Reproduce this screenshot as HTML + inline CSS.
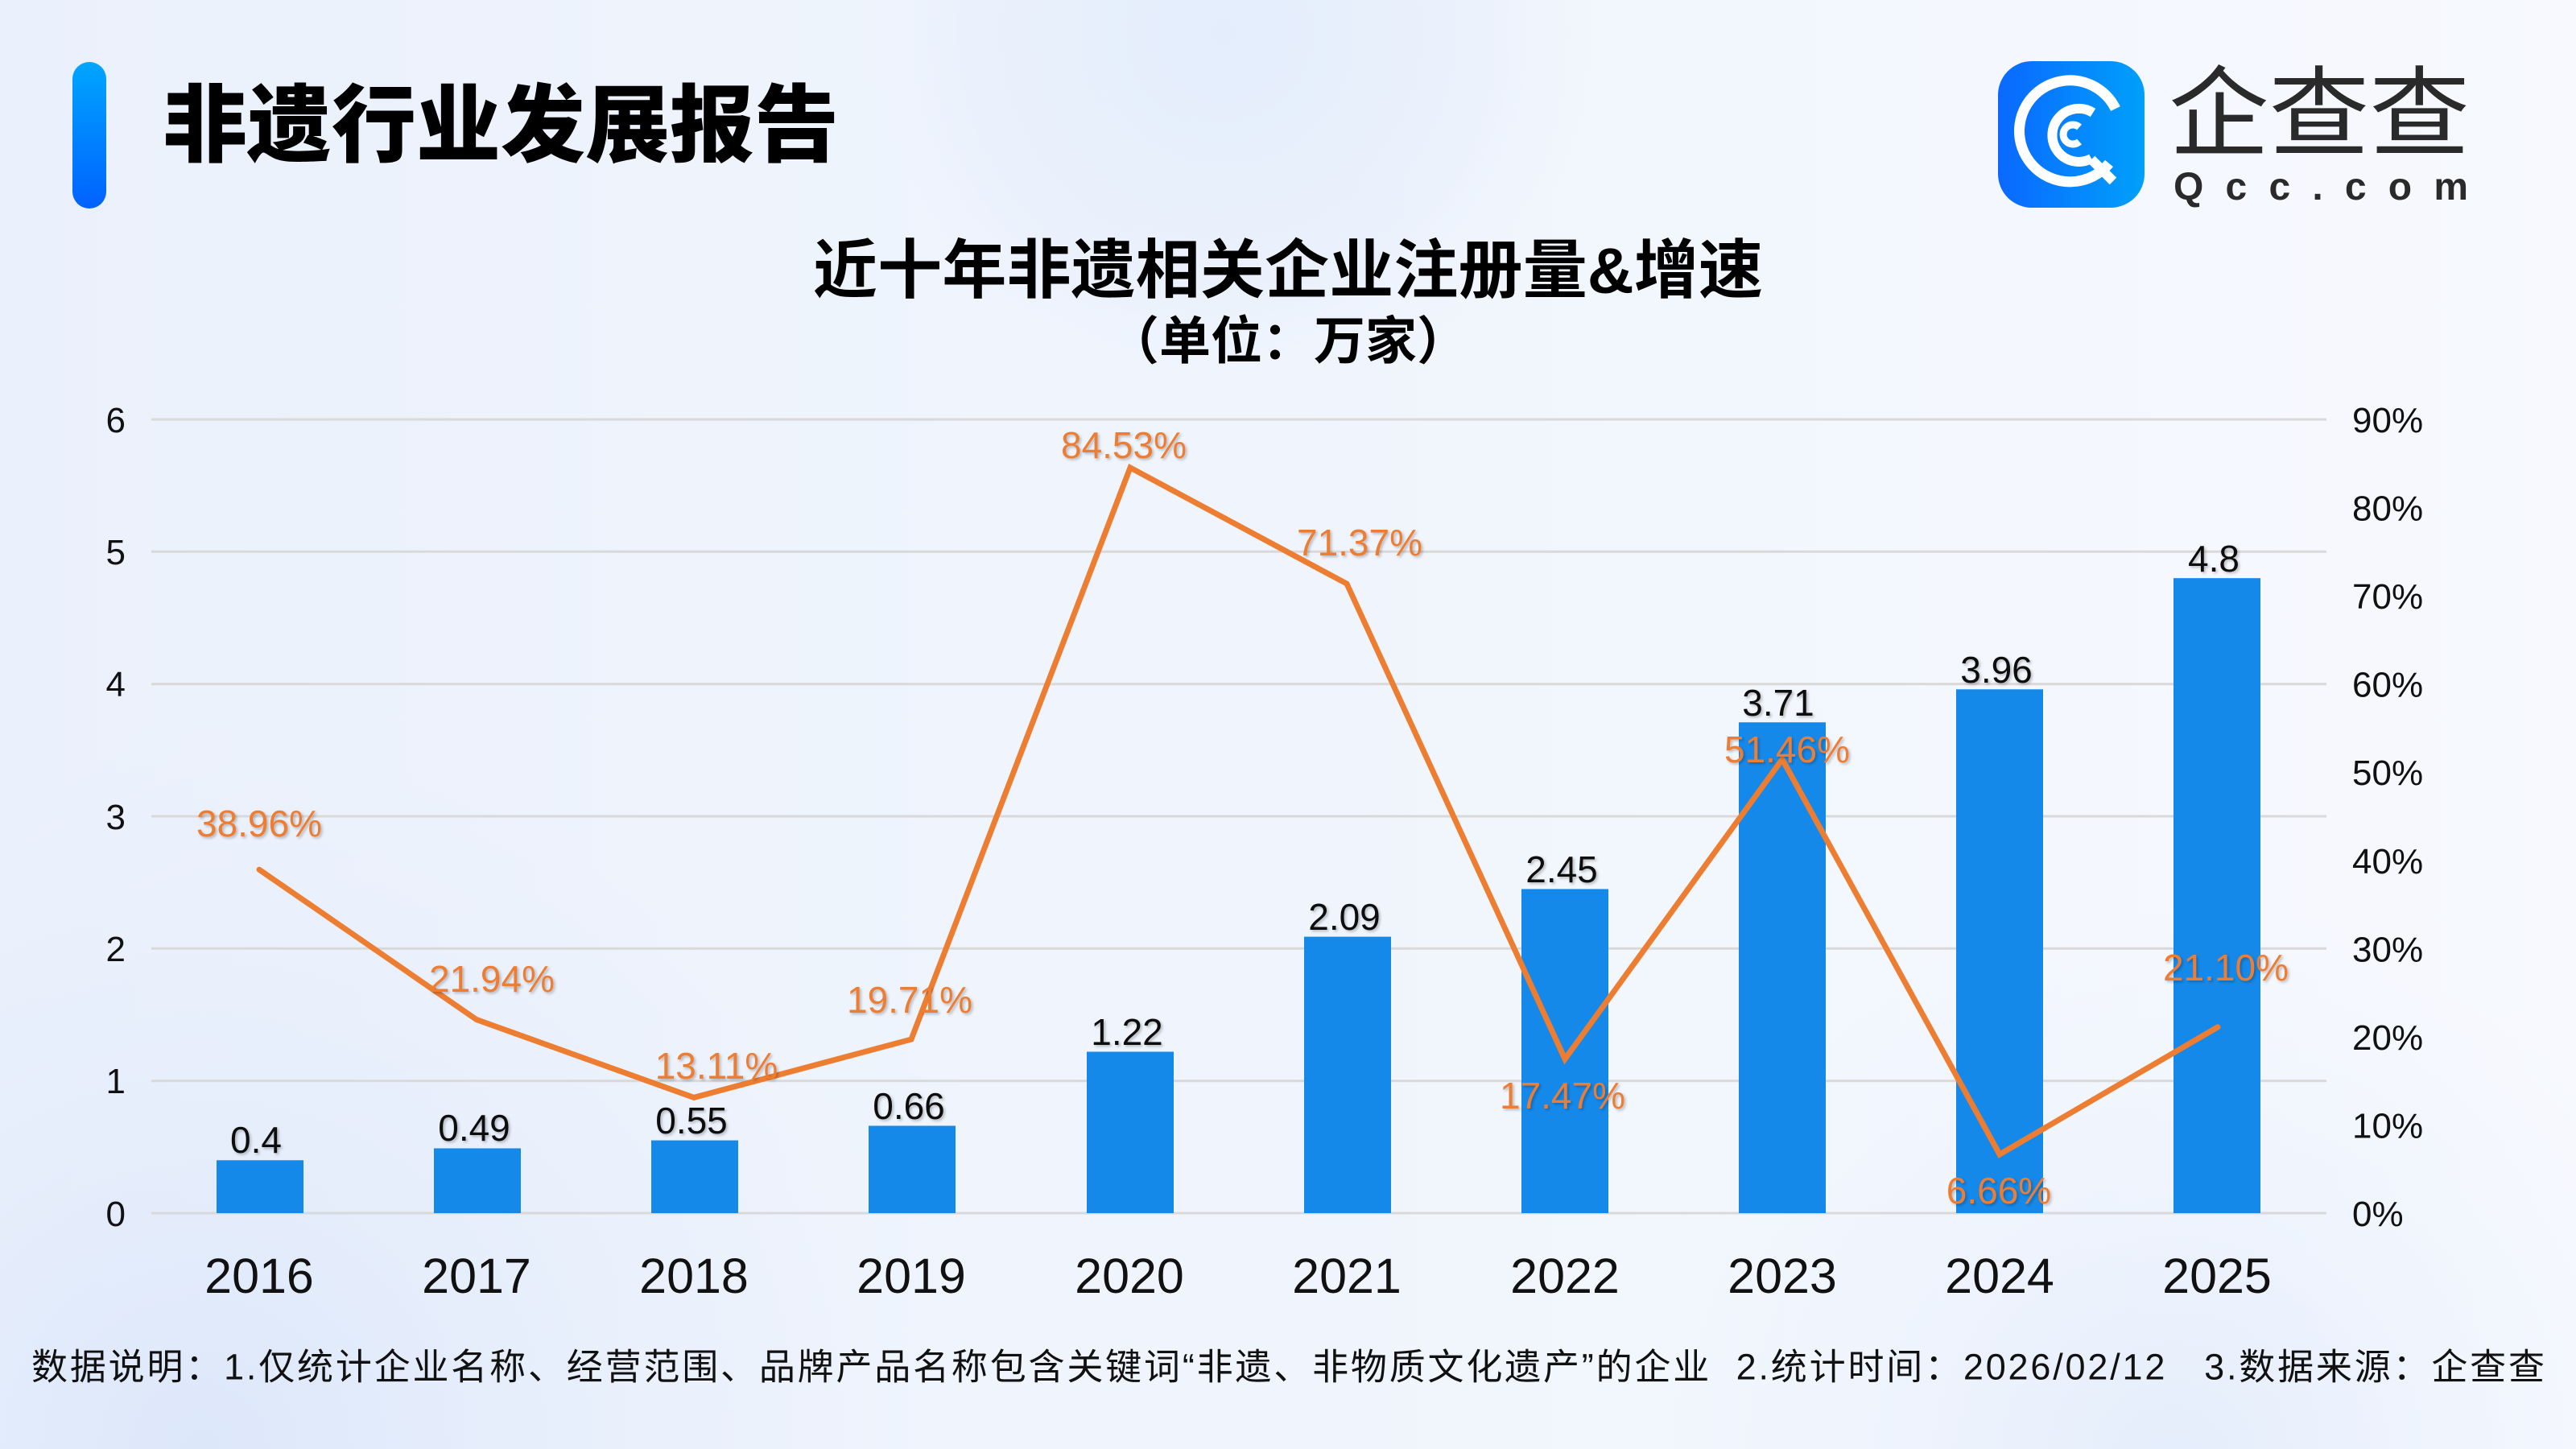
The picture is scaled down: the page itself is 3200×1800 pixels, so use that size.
<!DOCTYPE html>
<html>
<head>
<meta charset="utf-8">
<style>
  html,body{margin:0;padding:0;}
  body{width:3200px;height:1800px;overflow:hidden;}
  svg{display:block;}
  .cjk{font-family:"Liberation Sans","Noto Sans CJK SC",sans-serif;}
  .num{font-family:"Liberation Sans","Noto Sans CJK SC",sans-serif;}
</style>
</head>
<body>
<svg width="3200" height="1800" viewBox="0 0 3200 1800" xmlns="http://www.w3.org/2000/svg">
  <defs>
    <linearGradient id="bgL" x1="0" y1="0" x2="1" y2="0">
      <stop offset="0" stop-color="#EBF1FC"/>
      <stop offset="0.5" stop-color="#F0F5FD"/>
      <stop offset="1" stop-color="#F7F9FE"/>
    </linearGradient>
    <radialGradient id="blobTop" cx="1520" cy="40" r="460" gradientUnits="userSpaceOnUse">
      <stop offset="0" stop-color="#E3EDFC" stop-opacity="1"/>
      <stop offset="0.7" stop-color="#E7EFFC" stop-opacity="0.6"/>
      <stop offset="1" stop-color="#EEF3FD" stop-opacity="0"/>
    </radialGradient>
    <radialGradient id="blobBL" cx="250" cy="1800" r="900" gradientUnits="userSpaceOnUse">
      <stop offset="0" stop-color="#DCE7FA" stop-opacity="1"/>
      <stop offset="1" stop-color="#E8EFFC" stop-opacity="0"/>
    </radialGradient>
    <radialGradient id="blobBR" cx="2700" cy="1820" r="700" gradientUnits="userSpaceOnUse">
      <stop offset="0" stop-color="#E4EDFC" stop-opacity="1"/>
      <stop offset="1" stop-color="#EEF3FD" stop-opacity="0"/>
    </radialGradient>
    <linearGradient id="barTitle" x1="0" y1="0" x2="0" y2="1">
      <stop offset="0" stop-color="#00A6FF"/>
      <stop offset="1" stop-color="#0062FF"/>
    </linearGradient>
    <linearGradient id="iconG" x1="0" y1="0" x2="1" y2="0">
      <stop offset="0" stop-color="#0A68FF"/>
      <stop offset="1" stop-color="#00A0FB"/>
    </linearGradient>
    <filter id="sh" x="-10%" y="-30%" width="120%" height="160%">
      <feDropShadow dx="2" dy="2" stdDeviation="1.5" flood-color="#000" flood-opacity="0.25"/>
    </filter>
  </defs>

  <!-- background -->
  <rect x="0" y="0" width="3200" height="1800" fill="url(#bgL)"/>
  <rect x="0" y="0" width="3200" height="1800" fill="url(#blobTop)"/>
  <rect x="0" y="0" width="3200" height="1800" fill="url(#blobBL)"/>
  <rect x="0" y="0" width="3200" height="1800" fill="url(#blobBR)"/>

  <!-- header -->
  <rect x="90" y="77" width="42" height="182" rx="21" ry="21" fill="url(#barTitle)"/>
  <text class="cjk" x="202" y="157" dominant-baseline="central" font-size="105" font-weight="900" fill="#000" textLength="840" lengthAdjust="spacingAndGlyphs">非遗行业发展报告</text>

  <!-- logo -->
  <rect x="2482" y="76" width="182" height="182" rx="42" ry="42" fill="url(#iconG)"/>
  <g fill="none" stroke="#fff" stroke-linecap="butt">
    <!-- outer ring -->
    <path d="M 2620 203 A 63 63 0 1 1 2628 135" stroke-width="13"/>
    <!-- middle ring -->
    <path d="M 2598 197 A 33 33 0 1 1 2600 140" stroke-width="12"/>
    <!-- inner c -->
    <path d="M 2583 176 A 12 12 0 1 1 2583 158" stroke-width="9"/>
    <!-- Q tail -->
    <path d="M 2598 198 L 2625 225" stroke-width="12"/>
  </g>
  <text class="cjk" x="2694" y="142" dominant-baseline="central" font-size="122" fill="#2a2a2a" textLength="374" lengthAdjust="spacingAndGlyphs">企查查</text>
  <text class="num" x="2700" y="248" font-size="48" font-weight="bold" fill="#2a2a2a" textLength="366" lengthAdjust="spacing">Qcc.com</text>

  <!-- chart titles -->
  <text class="cjk" x="1600" y="336" dominant-baseline="central" text-anchor="middle" font-size="80" font-weight="bold" fill="#000" textLength="1180" lengthAdjust="spacing">近十年非遗相关企业注册量&amp;增速</text>
  <text class="cjk" x="1600" y="424" dominant-baseline="central" text-anchor="middle" font-size="64" font-weight="bold" fill="#000">（单位：万家）</text>

  <!-- gridlines -->
  <g stroke="#D9D9D9" stroke-width="3">
    <line x1="188" y1="521" x2="2890" y2="521"/>
    <line x1="188" y1="685.3" x2="2890" y2="685.3"/>
    <line x1="188" y1="849.7" x2="2890" y2="849.7"/>
    <line x1="188" y1="1014" x2="2890" y2="1014"/>
    <line x1="188" y1="1178.3" x2="2890" y2="1178.3"/>
    <line x1="188" y1="1342.7" x2="2890" y2="1342.7"/>
    <line x1="188" y1="1507" x2="2890" y2="1507"/>
  </g>

  <!-- left axis labels -->
  <g class="num" font-size="44" fill="#111" text-anchor="end">
    <text x="156" y="537">6</text>
    <text x="156" y="701">5</text>
    <text x="156" y="865">4</text>
    <text x="156" y="1030">3</text>
    <text x="156" y="1194">2</text>
    <text x="156" y="1358">1</text>
    <text x="156" y="1523">0</text>
  </g>

  <!-- right axis labels -->
  <g class="num" font-size="44" fill="#111" text-anchor="start">
    <text x="2922" y="537">90%</text>
    <text x="2922" y="646.6">80%</text>
    <text x="2922" y="756.1">70%</text>
    <text x="2922" y="865.7">60%</text>
    <text x="2922" y="975.2">50%</text>
    <text x="2922" y="1084.8">40%</text>
    <text x="2922" y="1194.3">30%</text>
    <text x="2922" y="1303.9">20%</text>
    <text x="2922" y="1413.4">10%</text>
    <text x="2922" y="1523">0%</text>
  </g>

  <!-- bars -->
  <g fill="#1589EA">
    <rect x="269" y="1441.3" width="108" height="65.7"/>
    <rect x="539" y="1426.5" width="108" height="80.5"/>
    <rect x="809" y="1416.6" width="108" height="90.4"/>
    <rect x="1079" y="1398.5" width="108" height="108.5"/>
    <rect x="1350" y="1306.5" width="108" height="200.5"/>
    <rect x="1620" y="1163.6" width="108" height="343.4"/>
    <rect x="1890" y="1104.4" width="108" height="402.6"/>
    <rect x="2160" y="897.3" width="108" height="609.7"/>
    <rect x="2430" y="856.3" width="108" height="650.7"/>
    <rect x="2700" y="718.2" width="108" height="788.8"/>
  </g>

  <!-- bar value labels -->
  <g class="num" font-size="46" fill="#111" text-anchor="middle" filter="url(#sh)">
    <text x="318" y="1432">0.4</text>
    <text x="589" y="1417">0.49</text>
    <text x="859" y="1408">0.55</text>
    <text x="1129" y="1390">0.66</text>
    <text x="1400" y="1298">1.22</text>
    <text x="1670" y="1155">2.09</text>
    <text x="1940" y="1096">2.45</text>
    <text x="2209" y="889">3.71</text>
    <text x="2480" y="848">3.96</text>
    <text x="2750" y="710">4.8</text>
  </g>

  <!-- growth line -->
  <polyline fill="none" stroke="#ED7D31" stroke-width="7" stroke-linejoin="miter" stroke-linecap="round"
    points="322,1080.2 592,1266.6 862,1363.4 1132,1291.1 1404,580.9 1673,725.1 1944,1315.6 2214,943.2 2484,1434 2755,1275.8"/>

  <!-- growth labels -->
  <g class="num" font-size="46" fill="#ED7D31" text-anchor="middle" filter="url(#sh)">
    <text x="322" y="1039">38.96%</text>
    <text x="611" y="1232">21.94%</text>
    <text x="890" y="1340">13.11%</text>
    <text x="1130" y="1258">19.71%</text>
    <text x="1396" y="569">84.53%</text>
    <text x="1689" y="690">71.37%</text>
    <text x="1941" y="1377">17.47%</text>
    <text x="2220" y="947">51.46%</text>
    <text x="2483" y="1495">6.66%</text>
    <text x="2765" y="1218">21.10%</text>
  </g>

  <!-- x axis labels -->
  <g class="num" font-size="61" fill="#111" text-anchor="middle">
    <text x="322" y="1606">2016</text>
    <text x="592" y="1606">2017</text>
    <text x="862" y="1606">2018</text>
    <text x="1132" y="1606">2019</text>
    <text x="1403" y="1606">2020</text>
    <text x="1673" y="1606">2021</text>
    <text x="1944" y="1606">2022</text>
    <text x="2214" y="1606">2023</text>
    <text x="2484" y="1606">2024</text>
    <text x="2754" y="1606">2025</text>
  </g>

  <!-- footer -->
  <text class="cjk" x="39" y="1698" dominant-baseline="central" font-size="45" fill="#111" textLength="3122" lengthAdjust="spacing" style="white-space:pre">数据说明：1.仅统计企业名称、经营范围、品牌产品名称包含关键词“非遗、非物质文化遗产”的企业  2.统计时间：2026/02/12   3.数据来源：企查查</text>
</svg>
</body>
</html>
